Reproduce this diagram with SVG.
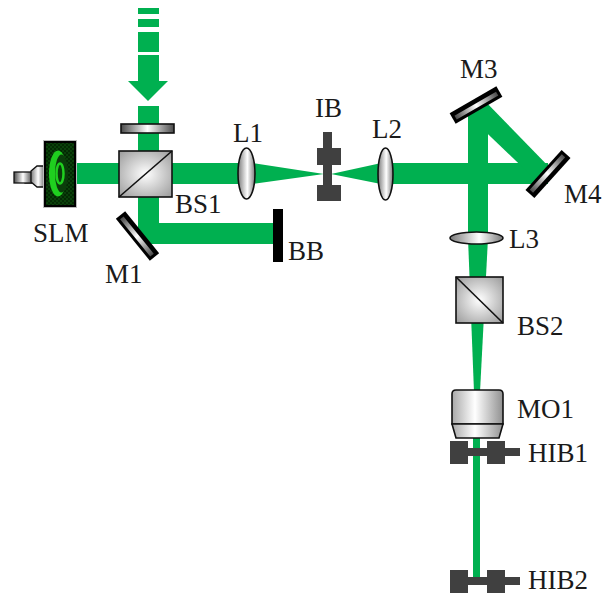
<svg xmlns="http://www.w3.org/2000/svg" width="604" height="594" viewBox="0 0 604 594">
  <defs>
    <style>
      .beam { fill: #00b050; }
      .lbl { font-family: "Liberation Serif", "Times New Roman", serif; font-size: 27px; fill: #1a1a1a; }
      .cube { fill: url(#cubeGrad); stroke: #111; stroke-width: 1.6; }
      .lens { fill: url(#lensGrad); stroke: #111; stroke-width: 1.6; }
      .block { fill: #404040; }
    </style>
    <radialGradient id="cubeGrad" cx="0.5" cy="0.5" r="0.7">
      <stop offset="0" stop-color="#ffffff"/>
      <stop offset="1" stop-color="#9a9a9a"/>
    </radialGradient>
    <linearGradient id="lensGrad" x1="0" y1="0" x2="1" y2="0">
      <stop offset="0" stop-color="#7a7a7a"/>
      <stop offset="0.55" stop-color="#ffffff"/>
      <stop offset="1" stop-color="#7a7a7a"/>
    </linearGradient>
    <linearGradient id="barGrad" x1="0" y1="0" x2="1" y2="0">
      <stop offset="0" stop-color="#4a4a4a"/>
      <stop offset="0.5" stop-color="#ffffff"/>
      <stop offset="1" stop-color="#4a4a4a"/>
    </linearGradient>
    <linearGradient id="moGrad" x1="0" y1="0" x2="1" y2="0">
      <stop offset="0" stop-color="#a8a8a8"/>
      <stop offset="0.45" stop-color="#ffffff"/>
      <stop offset="1" stop-color="#909090"/>
    </linearGradient>
    <pattern id="slmGrid" width="4" height="4" patternUnits="userSpaceOnUse">
      <rect width="4" height="4" fill="#032a03"/>
      <rect width="2" height="2" fill="#0a400a"/>
      <rect x="2" y="2" width="2" height="2" fill="#0a400a"/>
    </pattern>
    <!-- plane mirror, centred on the origin, long axis along x -->
    <g id="mirror">
      <rect x="-27" y="-6" width="54" height="12" fill="#000"/>
      <rect x="-24" y="-1.5" width="48" height="4.5" fill="url(#barGrad)"/>
    </g>
    <!-- beam block with two jaws on a horizontal bar -->
    <g id="hib">
      <rect x="0" y="0" width="18" height="23" class="block"/>
      <rect x="37" y="0" width="18" height="23" class="block"/>
      <rect x="0" y="7" width="70" height="8" class="block"/>
    </g>
  </defs>

  <!-- laser beams -->
  <g id="connectors">
    <!-- incoming beam (dashed arrow) -->
    <rect class="beam" x="138" y="8" width="21" height="6"/>
    <rect class="beam" x="138" y="19" width="21" height="8"/>
    <rect class="beam" x="138" y="32" width="21" height="20"/>
    <rect class="beam" x="138" y="55" width="21" height="27"/>
    <polygon class="beam" points="128,81 168,81 148,101"/>
    <rect class="beam" x="138" y="106" width="21" height="46"/>
    <!-- SLM -> BS1 -> L1 -->
    <rect class="beam" x="76" y="163" width="171" height="21"/>
    <!-- BS1 -> M1 -> BB -->
    <polygon class="beam" points="138,196 159,196 159,223 274,223 274,244 150,244 138,232"/>
    <!-- L1 focus at IB, L2 recollimate -->
    <polygon class="beam" points="246,162 246,185 324,174"/>
    <polygon class="beam" points="331,174 386,162 386,185"/>
    <rect class="beam" x="386" y="163" width="162" height="21"/>
    <!-- M4 -> M3 -->
    <polygon class="beam" points="482,98 554,172 541,185 468,115"/>
    <!-- M3 -> L3 -->
    <rect class="beam" x="468" y="108" width="20" height="132"/>
    <!-- L3 -> BS2 -> MO1 -->
    <polygon class="beam" points="468,238 488,238 480,392 474,392"/>
    <!-- after MO1 -->
    <rect class="beam" x="473" y="436" width="7" height="142"/>
  </g>

  <g id="SLM">
    <rect x="25" y="173" width="8" height="10" fill="url(#lensGrad)" stroke="#111" stroke-width="1.3"/>
    <rect x="14" y="172" width="18" height="11" fill="url(#barGrad)" stroke="#111" stroke-width="1.3"/>
    <polygon points="31,171 37,166 44,166 44,187 37,187 31,182" fill="url(#lensGrad)" stroke="#111" stroke-width="1.3"/>
    <rect x="43.5" y="140.5" width="33" height="67" fill="#000" stroke="#bbbbbb" stroke-width="1"/>
    <rect x="46" y="143" width="28" height="62" fill="url(#slmGrid)"/>
    <ellipse cx="58" cy="173.5" rx="9" ry="23" fill="#1fcf1f"/>
    <ellipse cx="61.5" cy="173.5" rx="6.5" ry="19" fill="#0b3d0b"/>
    <ellipse cx="60" cy="173.5" rx="3.5" ry="10" fill="none" stroke="#1fcf1f" stroke-width="2.5"/>
    <text class="lbl" x="33" y="242">SLM</text>
  </g>

  <g id="HWP">
    <rect x="121" y="124" width="53" height="9" fill="url(#barGrad)" stroke="#111" stroke-width="1.6"/>
  </g>

  <g id="BS1">
    <rect class="cube" x="119" y="151" width="53" height="46"/>
    <line x1="119" y1="197" x2="172" y2="151" stroke="#111" stroke-width="1.6"/>
    <text class="lbl" x="175" y="213">BS1</text>
  </g>

  <g id="M1">
    <use href="#mirror" transform="translate(137.5,236) rotate(51)"/>
    <text class="lbl" x="105" y="283">M1</text>
  </g>

  <g id="BB">
    <rect x="273" y="209" width="10" height="53" fill="#000"/>
    <text class="lbl" x="288" y="260">BB</text>
  </g>

  <g id="L1">
    <ellipse class="lens" cx="246.5" cy="173.5" rx="8.5" ry="25.5"/>
    <text class="lbl" x="233" y="142">L1</text>
  </g>

  <g id="IB">
    <rect class="block" x="323" y="132" width="9" height="68"/>
    <rect class="block" x="317" y="148" width="24" height="17"/>
    <rect class="block" x="317" y="185" width="24" height="16"/>
    <text class="lbl" x="315" y="117">IB</text>
  </g>

  <g id="L2">
    <ellipse class="lens" cx="385.5" cy="174" rx="7.5" ry="26"/>
    <text class="lbl" x="372" y="138">L2</text>
  </g>

  <g id="M3">
    <use href="#mirror" transform="translate(476,105) rotate(-30)"/>
    <text class="lbl" x="460" y="78">M3</text>
  </g>

  <g id="M4">
    <use href="#mirror" transform="translate(548,174) rotate(132)"/>
    <text class="lbl" x="564" y="203">M4</text>
  </g>

  <g id="L3">
    <ellipse class="lens" cx="476.5" cy="238" rx="26.5" ry="6"/>
    <text class="lbl" x="509" y="248">L3</text>
  </g>

  <g id="BS2">
    <rect class="cube" x="456" y="277" width="47" height="46"/>
    <line x1="456" y1="277" x2="503" y2="323" stroke="#111" stroke-width="1.6"/>
    <text class="lbl" x="517" y="335">BS2</text>
  </g>

  <g id="MO1">
    <path d="M452,424 V394 Q452,390 456,390 H499 Q503,390 503,394 V424 Z" fill="url(#moGrad)" stroke="#111" stroke-width="1.6"/>
    <path d="M452,424 H503 L499,438 H456 Z" fill="url(#moGrad)" stroke="#111" stroke-width="1.6"/>
    <text class="lbl" x="517" y="418">MO1</text>
  </g>

  <g id="HIB1">
    <use href="#hib" transform="translate(450,441)"/>
    <text class="lbl" x="528" y="462">HIB1</text>
  </g>

  <g id="HIB2">
    <use href="#hib" transform="translate(450,570)"/>
    <text class="lbl" x="528" y="589">HIB2</text>
  </g>
</svg>
